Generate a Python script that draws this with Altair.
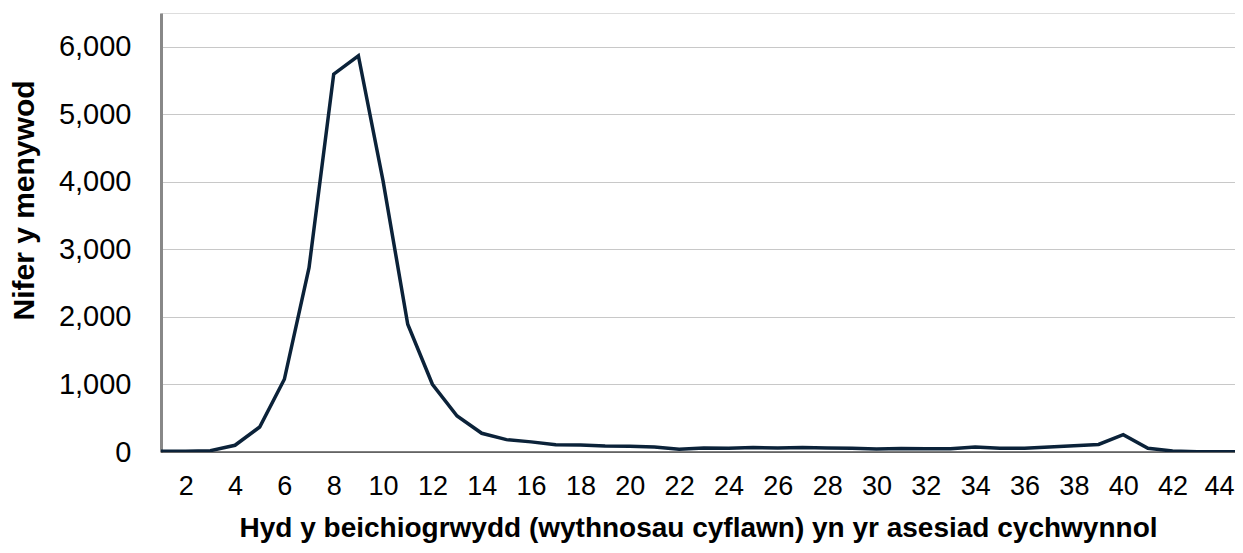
import altair as alt
import pandas as pd

weeks = list(range(1, 46))
counts = [10, 10, 20, 100, 370, 1077, 2730, 5595, 5867, 4015,
          1891, 1003, 533, 277, 183, 150, 109, 105, 88, 84,
          74, 40, 59, 54, 65, 59, 65, 59, 57, 45,
          52, 48, 48, 75, 54, 54, 75, 92, 112, 257,
          55, 15, 3, 2, 2]
x_ticks = list(range(2, 45, 2))
y_ticks = [0, 1000, 2000, 3000, 4000, 5000, 6000]

df = pd.DataFrame({"week": weeks, "count": counts})

FONT = "Liberation Sans"

line = alt.Chart(df).mark_line(color="#0b2239", strokeWidth=3.5, clip=True).encode(
    x=alt.X("week:Q",
            scale=alt.Scale(domain=[1, 44.53], nice=False, zero=False),
            axis=alt.Axis(values=x_ticks, format="d", ticks=False, grid=False,
                          domain=False, labelFontSize=27, labelPadding=21,
                          labelOffset={"expr": "datum.value == 44 ? -3 : 0"},
                          labelColor="#000000", labelFont=FONT,
                          title="Hyd y beichiogrwydd (wythnosau cyflawn) yn yr asesiad cychwynnol",
                          titleFont=FONT, titleFontSize=28, titleFontWeight="bold",
                          titleColor="#000000", titlePadding=15)),
    y=alt.Y("count:Q",
            scale=alt.Scale(domain=[0, 6500], nice=False),
            axis=alt.Axis(values=y_ticks, format=",d", ticks=False, grid=True,
                          gridColor="#c8c8c8", gridWidth=1,
                          domainColor="#888888", domainWidth=3,
                          labelFontSize=29, labelPadding=30, labelColor="#000000",
                          labelFont=FONT,
                          title="Nifer y menywod", titleFont=FONT, titleFontSize=30,
                          titleFontWeight="bold", titleColor="#000000",
                          titleX=-122, titleY=187, titleAnchor="middle",
                          titleBaseline="bottom", titleAngle=270)),
)

baseline = alt.Chart(pd.DataFrame({"y": [0]})).mark_rule(color="#000000", strokeWidth=1).encode(
    y="y:Q"
)

chart = alt.layer(baseline, line).properties(
    width=1074,
    height=439,
    autosize=alt.AutoSizeParams(type="none"),
    padding={"left": 153, "top": 5, "right": 0, "bottom": 92},
).configure_view(stroke=None).configure(background="white")

chart.save("out.html", embed_options={"renderer": "svg", "actions": False})
